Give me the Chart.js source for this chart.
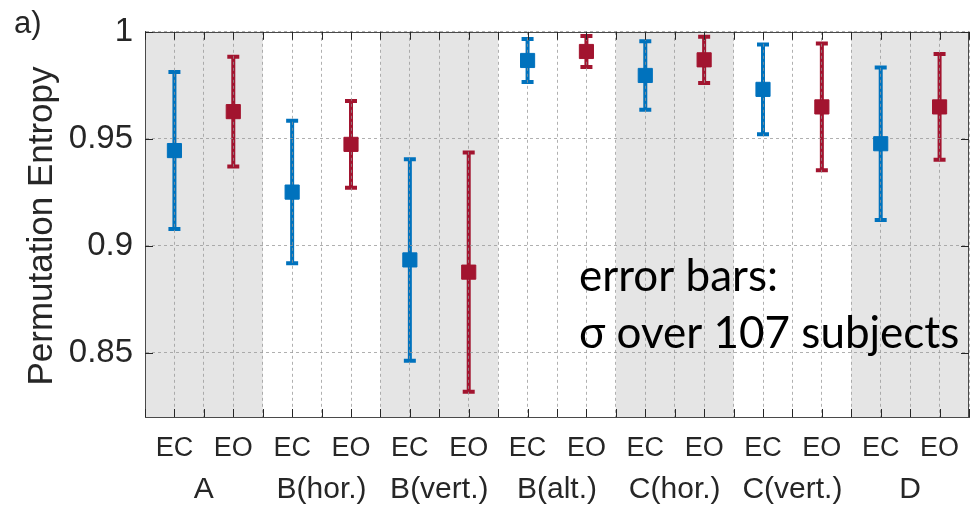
<!DOCTYPE html>
<html><head><meta charset="utf-8">
<script src="https://cdn.jsdelivr.net/npm/chart.js@4/dist/chart.umd.min.js"></script>
<style>html,body{margin:0;padding:0;background:#fff;} #wrap{width:980px;height:512px;position:relative;}</style>
</head><body><div id="wrap"><canvas id="c" width="980" height="512"></canvas></div>
<script>
// ---- data ----
const groups = ['A', 'B(hor.)', 'B(vert.)', 'B(alt.)', 'C(hor.)', 'C(vert.)', 'D'];
const conditions = ['EC', 'EO'];
const ecMean = [0.9445, 0.9251, 0.8934, 0.9866, 0.9796, 0.9731, 0.9477];
const ecSd   = [0.0367, 0.0333, 0.0471, 0.0100, 0.0160, 0.0210, 0.0356];
const eoMean = [0.9627, 0.9474, 0.8877, 0.9908, 0.9869, 0.9649, 0.9649];
const eoSd   = [0.0256, 0.0203, 0.0559, 0.0072, 0.0108, 0.0296, 0.0247];
const yTicks = [0.85, 0.9, 0.95, 1];
const yMin = 0.82, yMax = 1.0;
const panelLabel = 'a)';
const yTitle = 'Permutation Entropy';
const noteLines = ['error bars:', '\u03C3 over 107 subjects'];

// ---- style ----
const BLUE = '#0072BD', RED = '#A2142F';
const BAND = '#e5e5e5';
const GRID = 'rgba(150,150,150,0.75)';
const AXIS = '#4a4a4a';
const TXT = '#262626';
const FONT = '"Liberation Sans", Arial, Helvetica, sans-serif';

const nGroups = groups.length;
const xMax = nGroups * 2;
const xTickValues = [];
for (let k = 0; k <= xMax * 2; k++) xTickValues.push(k / 2);
const ecPoints = groups.map((g, i) => ({x: 2 * i + 0.5, y: ecMean[i]}));
const eoPoints = groups.map((g, i) => ({x: 2 * i + 1.5, y: eoMean[i]}));

const errorBars = {
  id: 'errorBars',
  beforeDraw(chart) {
    const {ctx, chartArea: a} = chart;
    const xs = chart.scales.x, ys = chart.scales.y;
    ctx.save();
    ctx.fillStyle = BAND;
    for (let g = 0; g < nGroups; g += 2) {
      const x0 = xs.getPixelForValue(2 * g), x1 = xs.getPixelForValue(2 * g + 2);
      ctx.fillRect(x0, a.top, x1 - x0, a.bottom - a.top);
    }
    const series = [{m: ecMean, s: ecSd, off: 0.5, c: BLUE}, {m: eoMean, s: eoSd, off: 1.5, c: RED}];
    series.forEach(sr => {
      ctx.strokeStyle = sr.c;
      ctx.lineWidth = 4;
      ctx.lineCap = 'butt';
      sr.m.forEach((m, i) => {
        const px = xs.getPixelForValue(2 * i + sr.off);
        const yHi = ys.getPixelForValue(m + sr.s[i]);
        const yLo = ys.getPixelForValue(m - sr.s[i]);
        ctx.beginPath();
        ctx.moveTo(px, yHi); ctx.lineTo(px, yLo);
        ctx.moveTo(px - 6, yHi); ctx.lineTo(px + 6, yHi);
        ctx.moveTo(px - 6, yLo); ctx.lineTo(px + 6, yLo);
        ctx.stroke();
      });
    });
    ctx.restore();
  },
  afterDraw(chart) {
    const {ctx, chartArea: a} = chart;
    const xs = chart.scales.x, ys = chart.scales.y;
    ctx.save();
    ctx.strokeStyle = AXIS;
    ctx.lineWidth = 1;
    ctx.beginPath();
    ctx.moveTo(a.left, Math.round(a.top) + 0.5); ctx.lineTo(a.right, Math.round(a.top) + 0.5);
    ctx.moveTo(Math.round(a.right) - 0.5, a.top); ctx.lineTo(Math.round(a.right) - 0.5, a.bottom);
    ctx.stroke();
    ctx.strokeStyle = TXT;
    ctx.beginPath();
    xTickValues.forEach(v => {
      const px = Math.round(xs.getPixelForValue(v)) + 0.5;
      ctx.moveTo(px, a.bottom); ctx.lineTo(px, a.bottom - 8);
      ctx.moveTo(px, a.top); ctx.lineTo(px, a.top + 8);
    });
    yTicks.forEach(v => {
      const py = Math.round(ys.getPixelForValue(v)) + 0.5;
      ctx.moveTo(a.left, py); ctx.lineTo(a.left + 8, py);
      ctx.moveTo(a.right, py); ctx.lineTo(a.right - 8, py);
    });
    ctx.stroke();
    // y-axis title
    ctx.fillStyle = TXT;
    ctx.save();
    ctx.translate(42, 226);
    ctx.rotate(-Math.PI / 2);
    ctx.font = '35px ' + FONT;
    ctx.textAlign = 'center';
    ctx.textBaseline = 'middle';
    ctx.fillText(yTitle, 0, 0);
    ctx.restore();
    // panel label
    ctx.font = '31px ' + FONT;
    ctx.textAlign = 'left';
    ctx.textBaseline = 'alphabetic';
    ctx.fillText(panelLabel, 14, 33);
    // annotation
    ctx.fillStyle = '#000';
    ctx.font = '44px Lato, "Open Sans", sans-serif';
    ctx.fillText(noteLines[0], 579, 291);
    ctx.fillText(noteLines[1], 579, 348);
    ctx.restore();
  }
};

new Chart(document.getElementById('c'), {
  type: 'scatter',
  data: {
    datasets: [
      {label: conditions[0], data: ecPoints, backgroundColor: BLUE, borderColor: BLUE, borderWidth: 1, pointStyle: 'rect', pointRadius: 10, pointHoverRadius: 10},
      {label: conditions[1], data: eoPoints, backgroundColor: RED, borderColor: RED, borderWidth: 1, pointStyle: 'rect', pointRadius: 10, pointHoverRadius: 10}
    ]
  },
  options: {
    responsive: false,
    animation: false,
    layout: {padding: {left: 0, right: 6, top: 29, bottom: 0}},
    plugins: {legend: {display: false}, tooltip: {enabled: false}},
    scales: {
      x: {
        type: 'linear', min: 0, max: xMax,
        afterBuildTicks: s => { s.ticks = xTickValues.map(v => ({value: v})); },
        afterFit: s => { s.height = 95; },
        grid: {color: GRID, lineWidth: 1, drawTicks: false},
        border: {display: true, color: AXIS, width: 1, dash: [3, 3]},
        ticks: {
          autoSkip: false, maxRotation: 0, minRotation: 0, padding: 11, color: TXT,
          font: ctx => ({family: FONT, size: (ctx.tick && Math.round(ctx.tick.value * 2) % 4 === 2) ? 30 : 27, lineHeight: '41px'}),
          callback: value => {
            const k = Math.round(value * 2);
            if (k % 2 === 1) return conditions[((k - 1) / 2) % 2];
            if (k % 4 === 2) return ['', groups[(k - 2) / 4]];
            return '';
          }
        }
      },
      y: {
        min: yMin, max: yMax,
        afterBuildTicks: s => { s.ticks = yTicks.map(v => ({value: v})); },
        afterFit: s => { s.width = 145; },
        grid: {color: GRID, lineWidth: 1, drawTicks: false},
        border: {display: true, color: AXIS, width: 1, dash: [3, 3]},
        ticks: {padding: 12, color: TXT, font: {family: FONT, size: 33}, callback: v => String(v)},
        title: {display: false, text: yTitle}
      }
    }
  },
  plugins: [errorBars]
});
</script></body></html>
